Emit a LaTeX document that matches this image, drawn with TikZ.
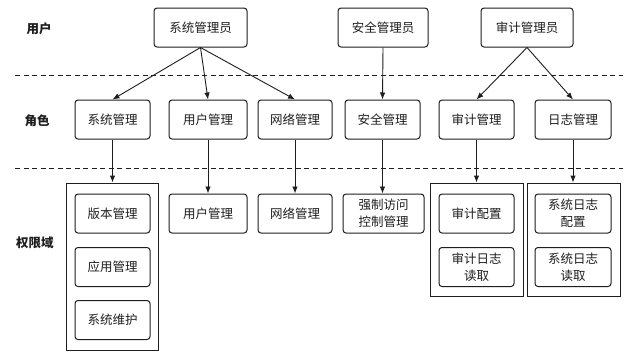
\documentclass[tikz,border=0pt]{standalone}
\usepackage{fontspec}
\usepackage{xcolor}
\usetikzlibrary{arrows.meta}
\newfontfamily\cjk{Noto Sans CJK SC}
\definecolor{Ink}{HTML}{1E1E1E}

\begin{document}
\begin{tikzpicture}[
    x=1pt, y=-1pt,
    font=\cjk\fontsize{12.5}{17}\selectfont,
    text=Ink,
    box/.style={
        rounded corners=3pt,
        draw=Ink,
        line width=1pt,
        fill=white,
        align=center,
        inner sep=2pt,
        minimum height=39pt
    },
    permgroup/.style={
        draw=Ink,
        line width=0.9pt,
        inner sep=0pt
    },
    arrow/.style={
        -{Latex[length=7pt,width=5.5pt]},
        line width=0.9pt,
        draw=Ink
    },
    layer/.style={
        draw=Ink,
        line width=1pt,
        dash pattern=on 5pt off 3.5pt
    },
    labeltext/.style={
        font=\cjk\bfseries\fontsize{12.5}{15}\selectfont,
        text=Ink
    }
]

% Canvas
\fill[white] (0,0) rectangle (636,360);
\useasboundingbox (0,0) rectangle (636,360);

% Layer labels
\node[labeltext] (lusers) at (39,29) {用户};
\node[labeltext] (lroles) at (37,121) {角色};
\node[labeltext] (lperms) at (35,243) {权限域};

% Layer separators
\draw[layer] (15,75) -- (623,75);
\draw[layer] (15,168) -- (623,168);

% Users
\node[box, minimum width=93pt] (sysadmin) at (200.5,27.5) {系统管理员};
\node[box, minimum width=90pt] (secadmin) at (383,27.5) {安全管理员};
\node[box, minimum width=92pt] (audadmin) at (527,27.5) {审计管理员};

% Roles
\node[box, minimum width=75pt] (sysrole) at (112.5,119.5) {系统管理};
\node[box, minimum width=78pt] (userrole) at (208,119.5) {用户管理};
\node[box, minimum width=74pt] (netrole) at (295,119.5) {网络管理};
\node[box, minimum width=75pt] (secrole) at (382.5,119.5) {安全管理};
\node[box, minimum width=75pt] (audrole) at (476.5,119.5) {审计管理};
\node[box, minimum width=76pt] (logrole) at (573,119.5) {日志管理};

% Permission domains
\node[permgroup, minimum width=92pt, minimum height=167pt] (sysdom) at (112,266.5) {};
\node[permgroup, minimum width=93pt, minimum height=113pt] (auddom) at (476.5,239.5) {};
\node[permgroup, minimum width=93pt, minimum height=113pt] (logdom) at (573.5,239.5) {};

\node[box, minimum width=75pt] (version) at (112.5,213.5) {版本管理};
\node[box, minimum width=75pt] (appmgr) at (112.5,267) {应用管理};
\node[box, minimum width=75pt] (sysmaint) at (112.5,320) {系统维护};

\node[box, minimum width=78pt] (userperm) at (208,213.5) {用户管理};
\node[box, minimum width=74pt] (netperm) at (295,213.5) {网络管理};
\node[box, minimum width=81pt] (macperm) at (383.5,213.5) {强制访问\\控制管理};

\node[box, minimum width=75pt] (audcfg) at (476.5,213.5) {审计配置};
\node[box, minimum width=75pt] (audread) at (476.5,267) {审计日志\\读取};
\node[box, minimum width=76pt] (logcfg) at (573,213.5) {系统日志\\配置};
\node[box, minimum width=76pt] (logread) at (573,267) {系统日志\\读取};

% Users to roles
\draw[arrow] (sysadmin.south) -- (sysrole.north);
\draw[arrow] (sysadmin.south) -- (userrole.north);
\draw[arrow] (sysadmin.south) -- (netrole.north);
\draw[arrow] (secadmin.south) -- (secrole.north);
\draw[arrow] (audadmin.south) -- (audrole.north);
\draw[arrow] (audadmin.south) -- (logrole.north);

% Roles to permissions
\draw[arrow] (sysrole.south) -- (sysdom.north -| sysrole.south);
\draw[arrow] (userrole.south) -- (userperm.north);
\draw[arrow] (netrole.south) -- (netperm.north);
\draw[arrow] (secrole.south) -- (macperm.north -| secrole.south);
\draw[arrow] (audrole.south) -- (auddom.north -| audrole.south);
\draw[arrow] (logrole.south) -- (logdom.north -| logrole.south);

\end{tikzpicture}
\end{document}
